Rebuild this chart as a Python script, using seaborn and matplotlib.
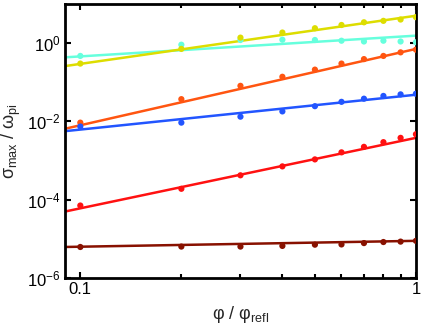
import numpy as np
import pandas as pd
import matplotlib
matplotlib.use("Agg")
import matplotlib.pyplot as plt
import matplotlib.ticker as mticker
import seaborn as sns

# phi / phi_refl sample points
phi = [0.1, 0.2, 0.3, 0.4, 0.5, 0.6, 0.7, 0.8, 0.9, 1.0]

# measured sigma_max / omega_pi, one list per run
cyan_pts = [0.47, 0.91, 1.20, 1.22, 1.20, 1.15, 1.10, 1.15, 1.10, 1.05]
yellow_pts = [0.30, 0.71, 1.38, 1.86, 2.4, 2.9, 3.4, 3.7, 4.0, 4.6]
orange_pts = [0.0093, 0.037, 0.081, 0.138, 0.21, 0.30, 0.39, 0.47, 0.58, 0.68]
blue_pts = [0.0074, 0.0093, 0.0132, 0.018, 0.0245, 0.0316, 0.038, 0.0447, 0.049, 0.051]
red_pts = [7.1e-5, 1.9e-4, 4.2e-4, 7.1e-4, 1.07e-3, 1.62e-3, 2.24e-3, 2.95e-3, 3.8e-3, 4.7e-3]
brown_pts = [6.2e-6, 6.35e-6, 6.35e-6, 6.6e-6, 7.1e-6, 7.2e-6, 7.8e-6, 8.3e-6, 8.5e-6, 8.9e-6]

# power-law fits: value at phi=1 and exponent
fit_amp = [1.55, 5.0, 0.71, 0.048, 0.0038, 8.9e-6]
fit_exp = [0.53, 1.23, 1.95, 0.89, 1.80, 0.15]

colors = ["#66FFDD", "#DDDD00", "#FF5511", "#2255FF", "#FF1111", "#881100"]
series = [cyan_pts, yellow_pts, orange_pts, blue_pts, red_pts, brown_pts]

sns.set_style("ticks")
plt.rcParams["font.family"] = ["Liberation Sans", "DejaVu Sans"]
plt.rcParams["mathtext.fontset"] = "custom"
plt.rcParams["mathtext.rm"] = "Liberation Sans"
plt.rcParams["mathtext.it"] = "Liberation Sans"
plt.rcParams["mathtext.default"] = "regular"

fig = plt.figure(figsize=(4.36, 3.29), dpi=100)
ax = fig.add_axes([0.149, 0.155, 0.805, 0.833])

x_fit = np.linspace(0.09, 1.0, 200)
for pts, amp, ex, c in zip(series, fit_amp, fit_exp, colors):
    fit_df = pd.DataFrame({"x": x_fit, "y": amp * x_fit ** ex})
    sns.lineplot(data=fit_df, x="x", y="y", color=c, linewidth=1.8, ax=ax)
    pt_df = pd.DataFrame({"x": phi, "y": pts})
    sns.scatterplot(data=pt_df, x="x", y="y", color=c, s=20, edgecolor="none", ax=ax, zorder=3)

ax.set_xscale("log")
ax.set_yscale("log")
ax.set_xlim(0.09, 1.0)
ax.set_ylim(1e-6, 10)

ax.set_xticks([0.1, 1.0])
ax.set_xticklabels(["0.1", "1"])
ax.xaxis.set_minor_locator(mticker.FixedLocator([0.2, 0.3, 0.4, 0.5, 0.6, 0.7, 0.8, 0.9]))
ax.xaxis.set_minor_formatter(mticker.NullFormatter())
ax.set_yticks([1e-6, 1e-4, 1e-2, 1])
ax.set_yticklabels([r"$10^{-6}$", r"$10^{-4}$", r"$10^{-2}$", r"$10^{0}$"])
ax.yaxis.set_minor_locator(mticker.NullLocator())

ax.tick_params(which="both", direction="in", top=True, right=True, width=1.5,
               labelsize=12, pad=3, colors="black")
ax.tick_params(which="major", length=4)
ax.tick_params(which="minor", length=3)
for sp in ax.spines.values():
    sp.set_linewidth(2)
    sp.set_color("black")

ax.set_xlabel(r"φ / φ$_{\rm refl}$", fontsize=13, labelpad=5)
ax.set_ylabel(r"σ$_{\rm max}$ / ω$_{\rm pi}$", fontsize=13, labelpad=3)

fig.savefig("out.png", dpi=100)
